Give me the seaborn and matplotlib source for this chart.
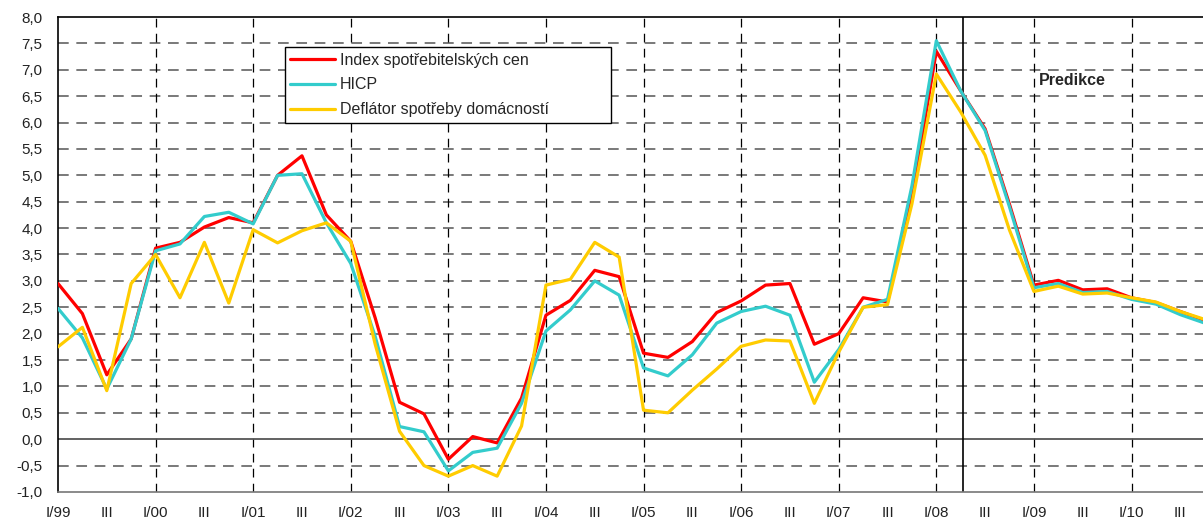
"""
Inflace: CPI, HICP a deflátor spotřeby domácností (meziročně v %), s predikcí
"""
import matplotlib
matplotlib.use("Agg")
import matplotlib.pyplot as plt
import numpy as np
import pandas as pd
import seaborn as sns

# ── Data ────────────────────────────────────────────────────────────────────
years = ["99", "00", "01", "02", "03", "04", "05", "06", "07", "08", "09", "10"]
quarter_names = ["I", "II", "III", "IV"]

cpi = [2.95, 2.38, 1.22, 1.90, 3.62, 3.73, 4.02, 4.20, 4.10, 5.00, 5.37, 4.25,
       3.75, 2.30, 0.70, 0.48, -0.38, 0.05, -0.07, 0.78, 2.35, 2.63, 3.20, 3.08,
       1.63, 1.55, 1.85, 2.40, 2.62, 2.92, 2.95, 1.80, 2.00, 2.68, 2.60, 4.60,
       7.35, 6.60, 5.88, 4.45, 2.92, 3.01, 2.83, 2.85, 2.68, 2.59, 2.42, 2.25]
hicp = [2.48, 1.92, 0.95, 1.90, 3.57, 3.70, 4.22, 4.30, 4.08, 5.00, 5.03, 4.10,
        3.33, 1.95, 0.24, 0.14, -0.60, -0.25, -0.17, 0.68, 2.05, 2.45, 3.00, 2.73,
        1.35, 1.20, 1.60, 2.20, 2.42, 2.52, 2.35, 1.08, 1.70, 2.50, 2.65, 4.80,
        7.55, 6.60, 5.85, 4.40, 2.87, 2.95, 2.78, 2.80, 2.65, 2.56, 2.36, 2.20]
deflator = [1.75, 2.12, 0.92, 2.95, 3.50, 2.68, 3.73, 2.58, 3.97, 3.72, 3.95, 4.10,
            3.75, 1.80, 0.15, -0.50, -0.70, -0.50, -0.70, 0.25, 2.92, 3.03, 3.73, 3.45,
            0.55, 0.50, 0.93, 1.33, 1.76, 1.88, 1.86, 0.68, 1.65, 2.50, 2.55, 4.46,
            6.92, 6.20, 5.38, 3.96, 2.80, 2.90, 2.75, 2.77, 2.68, 2.60, 2.42, 2.27]

series_names = ["Index spotřebitelských cen", "HICP", "Deflátor spotřeby domácností"]
series_colors = ["#ff0000", "#33cccc", "#ffcc00"]
prediction_label = "Predikce"
prediction_start = 37   # II/08

# ── Tvar dat ────────────────────────────────────────────────────────────────
quarters = [f"I/{y}" if q == "I" else q for y in years for q in quarter_names]
t = np.arange(len(quarters))
df = pd.concat([
    pd.DataFrame({"t": t, "value": vals, "series": name})
    for name, vals in zip(series_names, [cpi, hicp, deflator])
])

sns.set_style("white")
plt.rcParams["font.family"] = ["Liberation Sans", "DejaVu Sans"]

fig = plt.figure(figsize=(12.03, 5.25), dpi=100)
ax = fig.add_axes([0.0482, 0.0629, 0.9518, 0.9047])

sns.lineplot(data=df, x="t", y="value", hue="series", hue_order=series_names,
             palette=dict(zip(series_names, series_colors)), lw=2.3, ax=ax,
             legend=False, zorder=3)

# osy
ax.set_xlim(0, 46.93)
ax.set_ylim(-1, 8)
yt = np.arange(-1, 8.01, 0.5)
ax.set_yticks(yt)
ax.set_yticklabels([f"{v:.1f}".replace(".", ",") for v in yt],
                   fontsize=11, color="#222222")
ax.set_xticks(t[::2])
ax.set_xticklabels(quarters[::2], fontsize=11, color="#222222")
ax.tick_params(axis="x", length=0, pad=10)
ax.tick_params(axis="y", length=5, width=1, color="black", direction="out", pad=6)
ax.set_xlabel("")
ax.set_ylabel("")

# mřížka
for v in np.arange(-0.5, 8.0, 0.5):
    if abs(v) > 1e-9:
        ax.axhline(v, color="#555555", lw=1.1, ls=(0, (7, 5)), zorder=1)
for yr in t[4::4]:
    ax.axvline(yr, color="black", lw=0.9, ls=(0, (7, 5)), zorder=1)
ax.axhline(0, color="#555555", lw=1.3, zorder=2)
ax.axvline(prediction_start + 0.08, color="black", lw=1.2, zorder=2)

ax.spines["right"].set_visible(False)
ax.spines["left"].set_color("black")
ax.spines["left"].set_linewidth(1.2)
ax.spines["top"].set_color("black")
ax.spines["top"].set_linewidth(1.2)
ax.spines["bottom"].set_color("#777777")
ax.spines["bottom"].set_linewidth(1.2)

ax.text(40.2, 6.8, prediction_label, fontsize=11.5, fontweight="bold",
        ha="left", va="center")

handles = [plt.Line2D([], [], color=c, lw=2.3) for c in series_colors]
leg = ax.legend(handles, series_names, loc="upper left", mode="expand",
                bbox_to_anchor=(0.198, 0.779, 0.285, 0.158), fontsize=11.5,
                frameon=True, framealpha=1, fancybox=False, edgecolor="black",
                handlelength=2.8, handletextpad=0.3, labelspacing=0.62,
                borderpad=0.35, borderaxespad=0)
leg.get_frame().set_linewidth(1.0)
leg.set_zorder(5)

fig.savefig("out.png", dpi=100)
